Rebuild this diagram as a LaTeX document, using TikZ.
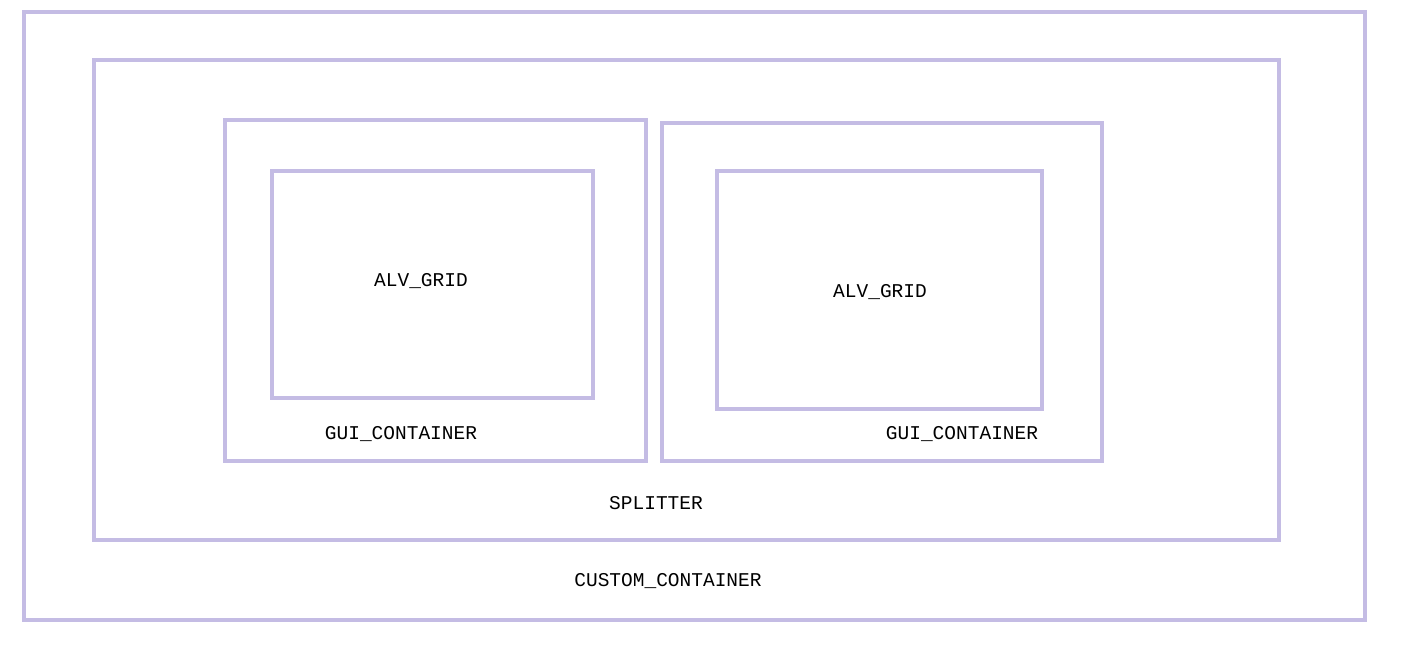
\documentclass[tikz,border=0pt]{standalone}
\usepackage{fontspec}
\newfontfamily\boxfont{Liberation Mono}
\definecolor{boxline}{HTML}{C4BCE4}
\tikzset{
  box/.style={draw=boxline, line width=2.8pt},
  boxlabel/.style={font=\boxfont\fontsize{11.1}{13}\selectfont, inner sep=0pt}
}

\begin{document}
\begin{tikzpicture}[x=0.02cm, y=-0.02cm]
		%%%%% START %%%%%
		\useasboundingbox (0, 0) rectangle (1406, 649);
		
		\draw[box] (24, 12) rectangle (1365, 620);
		\draw[box] (94, 60) rectangle (1279, 540);
		
		\draw[box] (225, 120) rectangle (646, 461);
		\draw[box] (272, 171) rectangle (593, 398);
		
		\draw[box] (662, 123) rectangle (1102, 461);
		\draw[box] (717, 171) rectangle (1042, 409);
		
		\node[boxlabel] (grida) at (421, 281) {ALV\_GRID};
		\node[boxlabel] (gridb) at (880, 292) {ALV\_GRID};
		\node[boxlabel] (conta) at (401, 434) {GUI\_CONTAINER};
		\node[boxlabel] (contb) at (962, 434) {GUI\_CONTAINER};
		\node[boxlabel] (split) at (656, 503) {SPLITTER};
		\node[boxlabel] (custom) at (668, 581) {CUSTOM\_CONTAINER};
		
		%%%%% END %%%%%
\end{tikzpicture}
\end{document}
